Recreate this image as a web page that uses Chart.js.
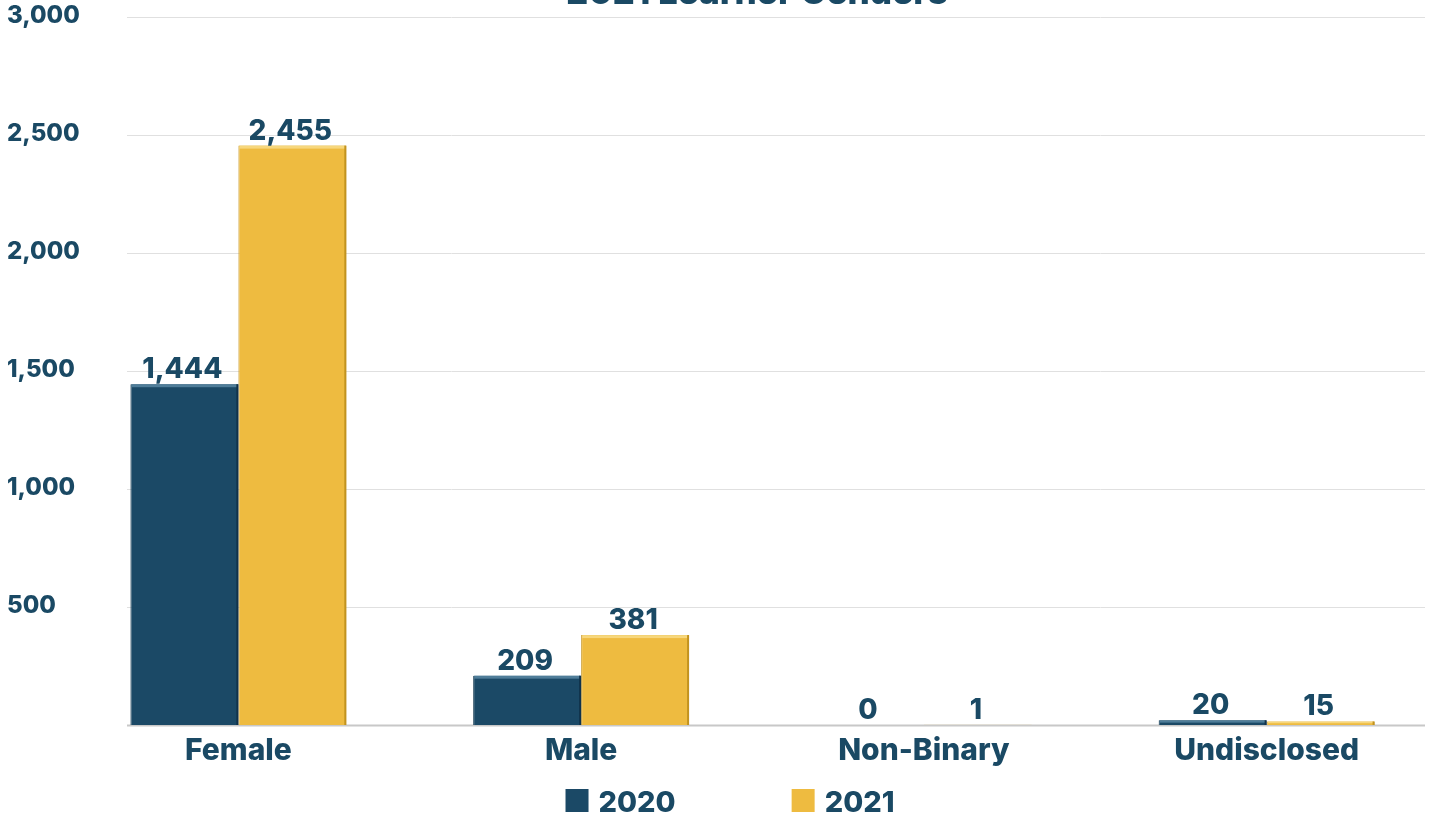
<!DOCTYPE html>
<html>
<head>
<meta charset="utf-8">
<script src="https://cdn.jsdelivr.net/npm/chart.js@4"></script>
<style>
  html, body { margin: 0; padding: 0; background: #fff; }
  #wrap { width: 1444px; height: 821px; }
</style>
</head>
<body>
<div id="wrap"><canvas id="chart" width="1444" height="821"></canvas></div>
<script>
const categories = ['Female', 'Male', 'Non-Binary', 'Undisclosed'];
const seriesNames = ['2020', '2021'];
const values2020 = [1444, 209, 0, 20];
const values2021 = [2455, 381, 1, 15];
const yTicks = [0, 500, 1000, 1500, 2000, 2500, 3000];

const ink = '#1a4964';
const blue = '#1b4966';
const gold = '#eebb40';
const bevel = [['#4f7d99', '#10324a'], ['#f7d77c', '#c2931f']];
const fontFam = 'Inter, Roboto, sans-serif';

// gridlines and y labels are drawn here so the lines can start right of the labels
const gridPlugin = {
    id: 'grid',
    beforeDatasetsDraw(chart) {
        const { ctx, chartArea, scales } = chart;
        const left = chartArea.left + 60;
        const right = chartArea.right - 13;
        ctx.save();
        yTicks.forEach(v => {
            const y = Math.round(scales.y.getPixelForValue(v)) + 0.5;
            ctx.strokeStyle = v === 0 ? '#c8c8c8' : '#e0e0e0';
            ctx.lineWidth = v === 0 ? 2 : 1;
            ctx.beginPath();
            ctx.moveTo(left, y);
            ctx.lineTo(right, y);
            ctx.stroke();
        });
        ctx.font = '800 24px ' + fontFam;
        ctx.fillStyle = ink;
        ctx.textAlign = 'left';
        ctx.textBaseline = 'middle';
        yTicks.forEach(v => {
            if (v === 0) return;
            ctx.fillText(v.toLocaleString('en-US'), 7, scales.y.getPixelForValue(v) - 1);
        });
        ctx.restore();
    }
};

// light top edge and dark right edge, like the bevelled bars of the original
const bevelPlugin = {
    id: 'bevel',
    afterDatasetsDraw(chart) {
        const { ctx } = chart;
        ctx.save();
        chart.data.datasets.forEach((ds, di) => {
            chart.getDatasetMeta(di).data.forEach(bar => {
                const { x, y, base, width } = bar.getProps(['x', 'y', 'base', 'width'], true);
                const h = base - y;
                if (h < 1) return;
                const l = x - width / 2, r = x + width / 2;
                const band = Math.min(3, h / 2);
                ctx.fillStyle = bevel[di][0];
                ctx.fillRect(l + 1, y, width - 2, band);
                ctx.fillStyle = bevel[di][1];
                ctx.fillRect(r - 2, y, 2, h);
            });
        });
        ctx.restore();
    }
};

const labelPlugin = {
    id: 'valueLabels',
    afterDatasetsDraw(chart) {
        const { ctx } = chart;
        ctx.save();
        ctx.font = '800 28px ' + fontFam;
        ctx.fillStyle = ink;
        ctx.textAlign = 'center';
        ctx.textBaseline = 'alphabetic';
        chart.data.datasets.forEach((ds, di) => {
            chart.getDatasetMeta(di).data.forEach((bar, i) => {
                ctx.fillText(ds.data[i].toLocaleString('en-US'), bar.x - 2, bar.y - 6);
            });
        });
        ctx.restore();
    }
};

const titlePlugin = {
    id: 'cutTitle',
    afterDraw(chart) {
        const { ctx } = chart;
        ctx.save();
        ctx.font = '800 35px ' + fontFam;
        ctx.fillStyle = ink;
        ctx.textAlign = 'center';
        ctx.textBaseline = 'alphabetic';
        ctx.fillText('2021 Learner Genders', 757, 4);
        ctx.restore();
    }
};

const legendPlugin = {
    id: 'bottomLegend',
    afterDraw(chart) {
        const { ctx } = chart;
        const box = 23, gap = 10, itemGap = 116;
        ctx.save();
        ctx.font = '800 29px ' + fontFam;
        ctx.textBaseline = 'alphabetic';
        ctx.textAlign = 'left';
        const items = chart.data.datasets.map(ds => ({ text: ds.label, color: ds.backgroundColor, w: ctx.measureText(ds.label).width }));
        let total = items.reduce((s, it) => s + box + gap + it.w, 0) + itemGap * (items.length - 1);
        let x = chart.width / 2 + 8 - total / 2;
        const top = 789;
        items.forEach(it => {
            ctx.fillStyle = it.color;
            ctx.fillRect(x, top, box, box);
            ctx.fillStyle = ink;
            ctx.fillText(it.text, x + box + gap, top + 23);
            x += box + gap + it.w + itemGap;
        });
        ctx.restore();
    }
};

new Chart(document.getElementById('chart'), {
    type: 'bar',
    data: {
        labels: categories,
        datasets: [
            { label: seriesNames[0], data: values2020, backgroundColor: blue, borderColor: '#143a52', borderWidth: 1 },
            { label: seriesNames[1], data: values2021, backgroundColor: gold, borderColor: '#c99a2a', borderWidth: 1 }
        ]
    },
    options: {
        responsive: false,
        animation: false,
        layout: { padding: { left: 7, right: 6, top: 17, bottom: 0 } },
        datasets: { bar: { categoryPercentage: 0.63, barPercentage: 1.0 } },
        plugins: {
            legend: { display: false },
            tooltip: { enabled: false }
        },
        scales: {
            x: {
                grid: { display: false },
                border: { display: false },
                ticks: {
                    color: ink,
                    font: { family: fontFam, size: 30, weight: '800' },
                    padding: 0
                },
                afterFit(scale) { scale.height = 96; }
            },
            y: {
                min: 0,
                max: 3000,
                grid: { display: false },
                border: { display: false },
                afterFit(scale) { scale.width = 60; },
                ticks: { display: false, stepSize: 500 }
            }
        }
    },
    plugins: [gridPlugin, bevelPlugin, labelPlugin, titlePlugin, legendPlugin]
});
</script>
</body>
</html>
